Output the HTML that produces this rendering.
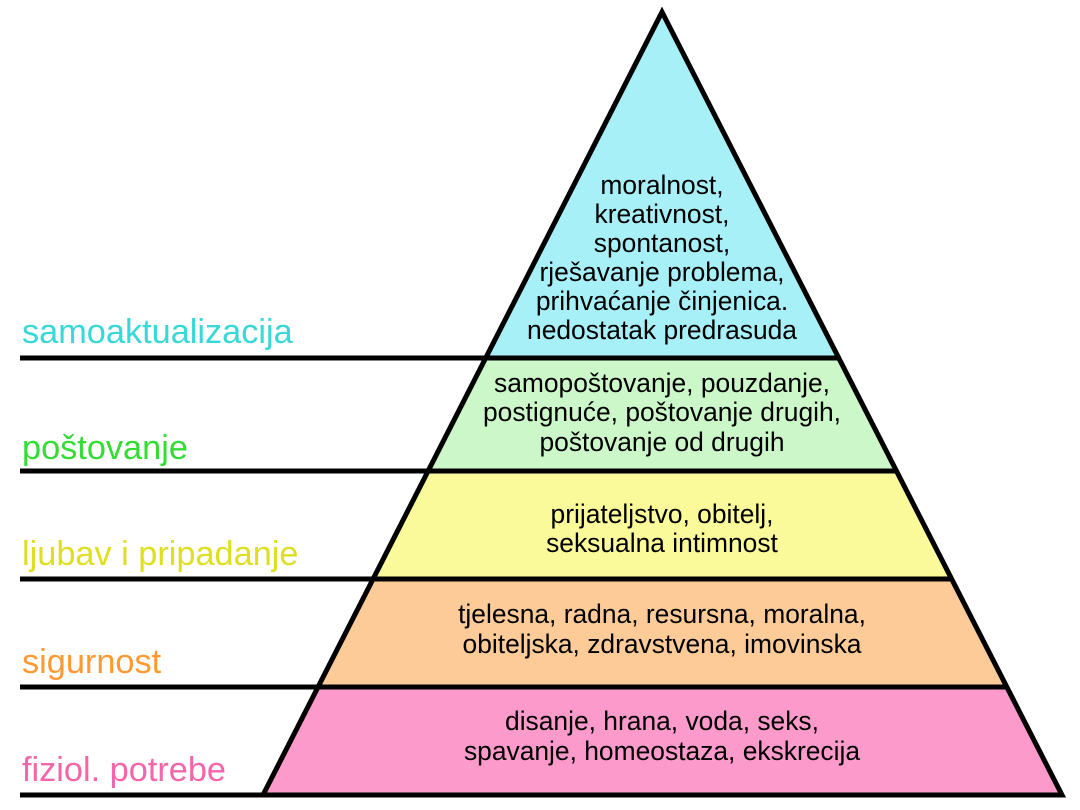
<!DOCTYPE html>
<html><head><meta charset="utf-8"><style>
html,body{margin:0;padding:0;background:#fff;}
svg{display:block;}
text{font-family:"Liberation Sans",sans-serif;}
.t{font-size:26.4px;fill:#000;text-anchor:middle;}
.l{font-size:34.3px;}
</style></head><body>
<svg width="1080" height="810" viewBox="0 0 1080 810" xmlns="http://www.w3.org/2000/svg">
<polygon points="662,12 486,358 838,358" fill="#a8f0f8"/>
<polygon points="486,358 838,358 896,471 428,471" fill="#ccf7c8"/>
<polygon points="428,471 896,471 951,579 373,579" fill="#fafa9a"/>
<polygon points="373,579 951,579 1006,687 318,687" fill="#fccb98"/>
<polygon points="318,687 1006,687 1062,795 263,795" fill="#fc9acb"/>
<g stroke="#000" stroke-width="5" fill="none">
<polygon points="662,12 1062,795 263,795" stroke-linejoin="miter"/>
<line x1="20" y1="358" x2="838" y2="358"/>
<line x1="20" y1="471" x2="896" y2="471"/>
<line x1="20" y1="579" x2="951" y2="579"/>
<line x1="20" y1="687" x2="1006" y2="687"/>
<line x1="20" y1="795" x2="1062" y2="795"/>
</g>
<g class="t">
<text x="662" y="194">moralnost,</text>
<text x="662" y="223">kreativnost,</text>
<text x="662" y="252">spontanost,</text>
<text x="662" y="281">rješavanje problema,</text>
<text x="662" y="310">prihvaćanje činjenica.</text>
<text x="662" y="339">nedostatak predrasuda</text>
<text x="662" y="392">samopoštovanje, pouzdanje,</text>
<text x="662" y="421">postignuće, poštovanje drugih,</text>
<text x="662" y="451">poštovanje od drugih</text>
<text x="662" y="523">prijateljstvo, obitelj,</text>
<text x="662" y="552">seksualna intimnost</text>
<text x="662" y="623">tjelesna, radna, resursna, moralna,</text>
<text x="662" y="653">obiteljska, zdravstvena, imovinska</text>
<text x="662" y="730">disanje, hrana, voda, seks,</text>
<text x="662" y="760">spavanje, homeostaza, ekskrecija</text>
</g>
<text class="l" x="22" y="343" fill="#38d8d8">samoaktualizacija</text>
<text class="l" x="22" y="459" fill="#33dd33">poštovanje</text>
<text class="l" x="22" y="565" fill="#dede22">ljubav i pripadanje</text>
<text class="l" x="22" y="673" fill="#ff9933">sigurnost</text>
<text class="l" x="22" y="781" fill="#f466aa">fiziol. potrebe</text>
</svg>
</body></html>
